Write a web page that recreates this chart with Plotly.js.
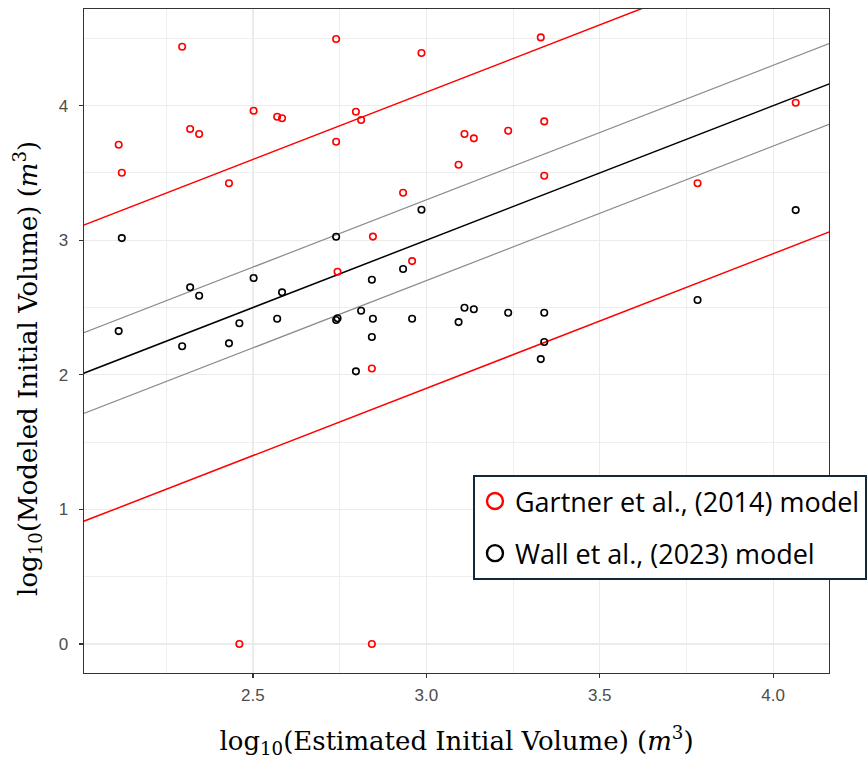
<!DOCTYPE html>
<html>
<head>
<meta charset="utf-8">
<script src="https://cdn.plot.ly/plotly-3.0.1.min.js"></script>
<style>
  html, body { margin: 0; padding: 0; background: #ffffff; }
  #chart { width: 868px; height: 759px; }
</style>
</head>
<body>
<div id="chart"></div>
<script>
// log10 of estimated initial volume (m^3) for each event
const estimatedVolume = [
  2.113, 2.122, 2.296, 2.319, 2.345, 2.431, 2.461, 2.502, 2.570, 2.584,
  2.740, 2.740, 2.744, 2.797, 2.812, 2.843, 2.843, 2.846, 2.933, 2.959,
  2.986, 3.093, 3.110, 3.137, 3.236, 3.330, 3.340, 3.340, 3.782, 4.065
];

// log10 of modeled initial volume, Gartner et al. (2014)
const gartnerModeled = [
  3.710, 3.502, 4.438, 3.826, 3.789, 3.423, 0.000, 3.962, 3.918, 3.906,
  4.495, 3.732, 2.766, 3.955, 3.893, 2.047, 0.000, 3.027, 3.353, 2.845,
  4.391, 3.561, 3.789, 3.757, 3.814, 4.507, 3.883, 3.479, 3.423, 4.022
];

// log10 of modeled initial volume, Wall et al. (2023)
const wallModeled = [
  2.325, 3.016, 2.212, 2.650, 2.588, 2.234, 2.383, 2.719, 2.417, 2.613,
  3.026, 2.407, 2.420, 2.026, 2.476, 2.707, 2.281, 2.417, 2.786, 2.417,
  3.227, 2.392, 2.499, 2.487, 2.461, 2.117, 2.461, 2.244, 2.556, 3.224
];

// 1:1 line and the offsets of the error bands around it (log10 units)
const identityOffset = 0;
const wallBandOffsets = [0.3, -0.3];
const gartnerBandOffsets = [1.1, -1.1];

const seriesNames = ["Gartner et al., (2014) model", "Wall et al., (2023) model"];
const xTitle = "log<sub>10</sub>(Estimated Initial Volume) (<i>m</i><sup>3</sup>)";
const yTitle = "log<sub>10</sub>(Modeled Initial Volume) (<i>m</i><sup>3</sup>)";

const xRange = [2.013, 4.161];
const yRange = [-0.215, 4.718];
const xTicks = [2.5, 3.0, 3.5, 4.0];
const xTickText = ["2.5", "3.0", "3.5", "4.0"];
const xMinorTicks = [2.25, 2.75, 3.25, 3.75];
const yTicks = [0, 1, 2, 3, 4];
const yTickText = ["0", "1", "2", "3", "4"];
const yMinorTicks = [0.5, 1.5, 2.5, 3.5, 4.5];

// reference lines run across the whole axis span and are clipped by the plot
const lineX = [xRange[0] - 0.1, xRange[1] + 0.1];
function offsetLine(offset, color, width) {
  return {
    type: "scatter", mode: "lines",
    x: lineX, y: lineX.map(v => v + offset),
    line: { color: color, width: width },
    hoverinfo: "skip", showlegend: false
  };
}

const traces = [];
wallBandOffsets.forEach(o => traces.push(offsetLine(o, "#8a8a8a", 1.2)));
traces.push(offsetLine(identityOffset, "#000000", 1.5));
gartnerBandOffsets.forEach(o => traces.push(offsetLine(o, "#ff0000", 1.5)));

traces.push({
  type: "scatter", mode: "markers", name: seriesNames[0],
  x: estimatedVolume, y: gartnerModeled,
  marker: { symbol: "circle-open", size: 6.5, color: "#ff0000", line: { width: 1.6 } },
  showlegend: false
});
traces.push({
  type: "scatter", mode: "markers", name: seriesNames[1],
  x: estimatedVolume, y: wallModeled,
  marker: { symbol: "circle-open", size: 6.5, color: "#000000", line: { width: 1.6 } },
  showlegend: false
});

// legend keys, drawn with larger symbols
traces.push({
  type: "scatter", mode: "markers", name: seriesNames[0],
  x: [null], y: [null], legendgroup: "g",
  marker: { symbol: "circle-open", size: 16, color: "#ff0000", line: { width: 2.4 } }
});
traces.push({
  type: "scatter", mode: "markers", name: seriesNames[1],
  x: [null], y: [null], legendgroup: "w",
  marker: { symbol: "circle-open", size: 16, color: "#000000", line: { width: 2.4 } }
});

const tickFont = { family: "Liberation Sans Narrow, Arial Narrow, Liberation Sans, Arial, sans-serif", size: 17, color: "#4d4d4d" };
const titleFont = { family: "DejaVu Serif, Liberation Serif, serif", size: 26, color: "#000000" };

const layout = {
  width: 868, height: 759,
  margin: { l: 84, r: 39, t: 9, b: 86, autoexpand: false },
  paper_bgcolor: "#ffffff", plot_bgcolor: "#ffffff",
  showlegend: true,
  xaxis: {
    range: xRange, tickmode: "array", tickvals: xTicks, ticktext: xTickText,
    showgrid: true, gridcolor: "#ebebeb", gridwidth: 1.2,
    minor: { tickmode: "array", tickvals: xMinorTicks, showgrid: true, gridcolor: "#efefef", gridwidth: 1, ticks: "" },
    zeroline: false, showline: true, mirror: true, linecolor: "#333333", linewidth: 1.3,
    ticks: "outside", ticklen: 4, tickwidth: 1.2, tickcolor: "#333333",
    tickfont: tickFont, ticklabelstandoff: 2,
    title: { text: xTitle, font: titleFont, standoff: 28 }
  },
  yaxis: {
    range: yRange, tickmode: "array", tickvals: yTicks, ticktext: yTickText,
    showgrid: true, gridcolor: "#ebebeb", gridwidth: 1.2,
    minor: { tickmode: "array", tickvals: yMinorTicks, showgrid: true, gridcolor: "#efefef", gridwidth: 1, ticks: "" },
    zeroline: false, showline: true, mirror: true, linecolor: "#333333", linewidth: 1.3,
    ticks: "outside", ticklen: 4, tickwidth: 1.2, tickcolor: "#333333",
    tickfont: tickFont, ticklabelstandoff: 7
  },
  annotations: [{
    text: yTitle, font: titleFont, textangle: -90, showarrow: false,
    xref: "paper", yref: "paper", x: 0, y: 0.458,
    xanchor: "center", yanchor: "middle", xshift: -56
  }],
  legend: {
    x: 0.5221, y: 0.2982, xanchor: "left", yanchor: "top",
    bgcolor: "#ffffff", bordercolor: "#13293a", borderwidth: 2,
    font: { family: "Open Sans, Roboto, sans-serif", size: 27, color: "#000000" },
    tracegroupgap: 14
  }
};

Plotly.newPlot("chart", traces, layout, { displayModeBar: false, staticPlot: true });
</script>
</body>
</html>
